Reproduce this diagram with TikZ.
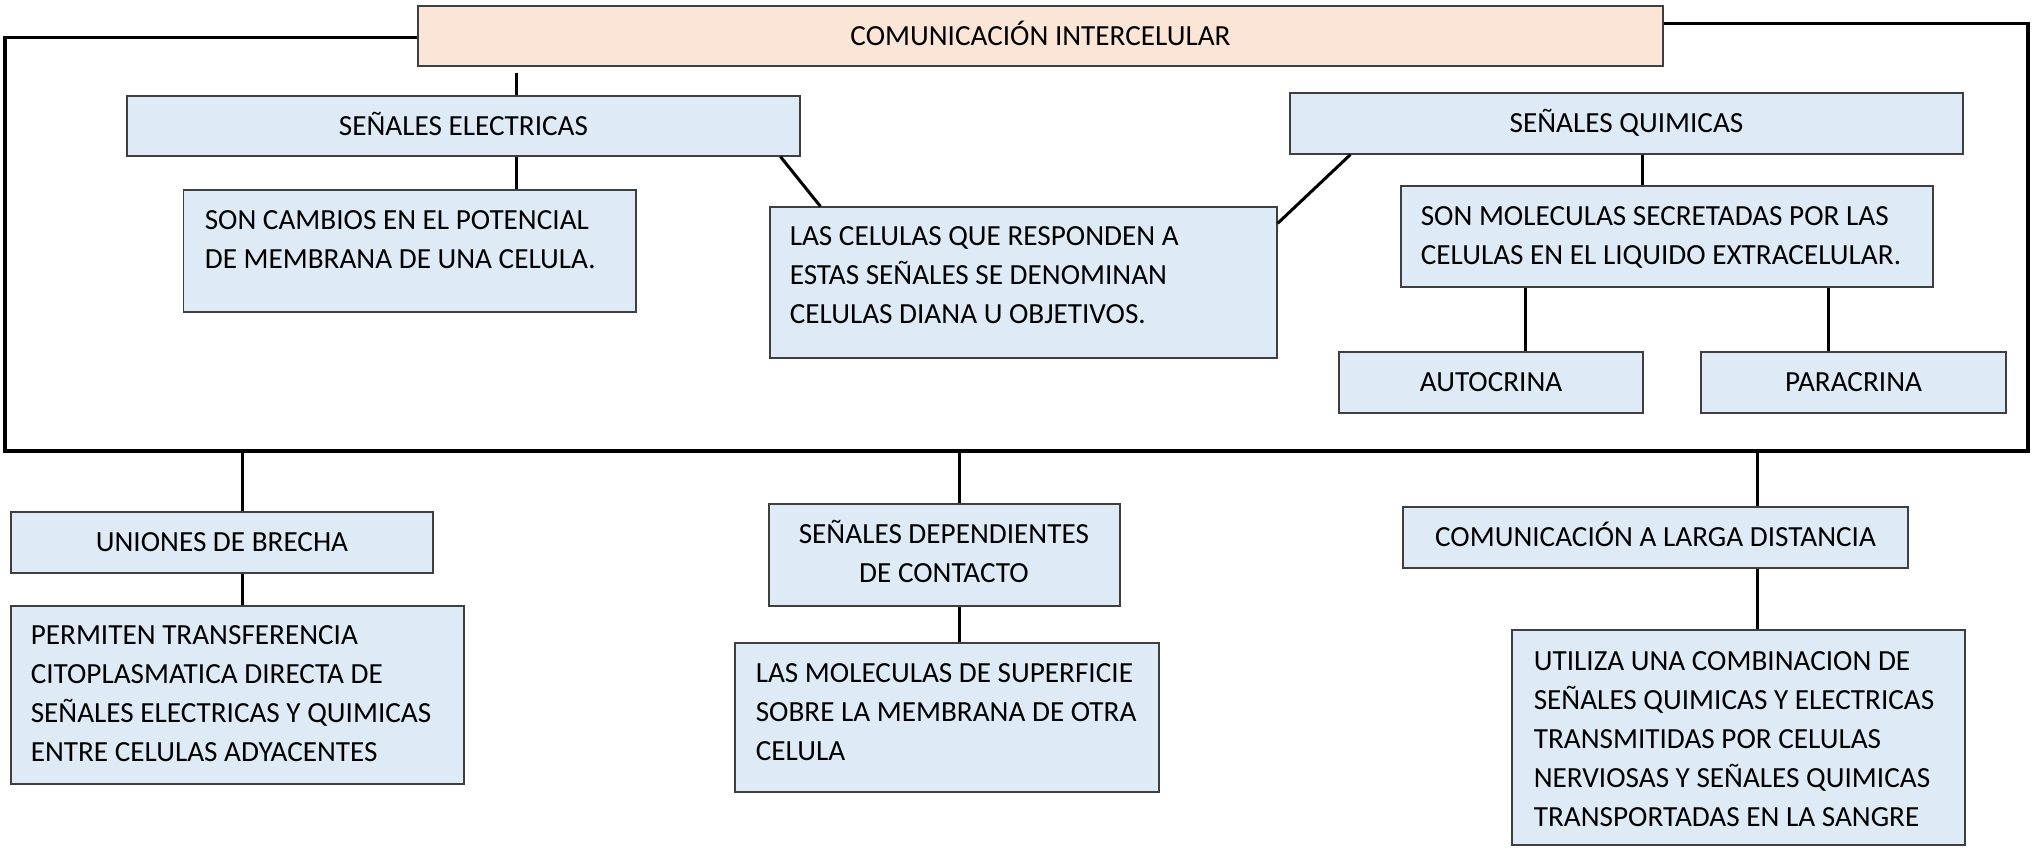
\documentclass[tikz,border=0pt]{standalone}
\usepackage{fontspec}
\setmainfont{Carlito}
\usetikzlibrary{fit,calc}
\definecolor{boxblue}{HTML}{DEEAF6}
\definecolor{boxpeach}{HTML}{FBE5D6}
\definecolor{boxline}{HTML}{3F3F3F}
\begin{document}
\begin{tikzpicture}[x=0.5pt,y=-0.5pt,
  bx/.style={draw=boxline, line width=0.6pt, fill=boxblue, inner sep=0pt},
  lbl/.style={inner sep=0pt, text height=9.4pt, text depth=0pt, anchor=center},
  tx/.style={inner sep=0pt, anchor=base west, align=flush left, text width=#1},
  conn/.style={line width=1.5pt, black},
  frame/.style={line width=1.75pt, black},
  font=\fontsize{14.6pt}{19.5pt}\selectfont]
\fill[white] (0,0) rectangle (2038,849);
\useasboundingbox (0,0) rectangle (2038,849);

% boxes
\node[bx, fill=boxpeach, fit={(418,6)(1663,66)}] (top) {};
\node[bx, fit={(127,96)(800,156)}] (se) {};
\node[bx, fit={(183.5,190)(636,312)}] (sc) {};
\node[bx, fit={(770,207)(1277,358)}] (lc) {};
\node[bx, fit={(1290,93)(1963,154)}] (sq) {};
\node[bx, fit={(1401,186)(1933,287)}] (sm) {};
\node[bx, fit={(1339,352)(1643,413)}] (au) {};
\node[bx, fit={(1701,352)(2006,413)}] (pa) {};
\node[bx, fit={(11,512)(433,573)}] (un) {};
\node[bx, fit={(11,606)(464,784)}] (pe) {};
\node[bx, fit={(769,504)(1120,606)}] (sd) {};
\node[bx, fit={(735,643)(1159,792)}] (lm) {};
\node[bx, fit={(1403,507)(1908,568)}] (cl) {};
\node[bx, fit={(1512,630)(1965,845)}] (ut) {};

% single-line labels
\node[lbl] (t-top) at (top.center) {COMUNICACIÓN INTERCELULAR};
\node[lbl] (t-se) at (se.center) {SEÑALES ELECTRICAS};
\node[lbl] (t-sq) at (sq.center) {SEÑALES QUIMICAS};
\node[lbl] (t-au) at (au.center) {AUTOCRINA};
\node[lbl] (t-pa) at (pa.center) {PARACRINA};
\node[lbl] (t-un) at (un.center) {UNIONES DE BRECHA};
\node[lbl] (t-cl) at (cl.center) {COMUNICACIÓN A LARGA DISTANCIA};

% multi-line texts
\node[tx=215pt] (t-sc) at ($(sc.north west)+(21.5,40)$) {SON CAMBIOS EN EL POTENCIAL\\DE MEMBRANA DE UNA CELULA.};
\node[tx=240pt] (t-lc) at ($(lc.north west)+(20,39)$) {LAS CELULAS QUE RESPONDEN A\\ESTAS SEÑALES SE DENOMINAN\\CELULAS DIANA U OBJETIVOS.};
\node[tx=255pt] (t-sm) at ($(sm.north west)+(20,40)$) {SON MOLECULAS SECRETADAS POR LAS\\CELULAS EN EL LIQUIDO EXTRACELULAR.};
\node[tx=215pt] (t-pe) at ($(pe.north west)+(20,39)$) {PERMITEN TRANSFERENCIA\\CITOPLASMATICA DIRECTA DE\\SEÑALES ELECTRICAS Y QUIMICAS\\ENTRE CELULAS ADYACENTES};
\node[tx=200pt] (t-lm) at ($(lm.north west)+(21,40)$) {LAS MOLECULAS DE SUPERFICIE\\SOBRE LA MEMBRANA DE OTRA\\CELULA};
\node[tx=215pt] (t-ut) at ($(ut.north west)+(22,41)$) {UTILIZA UNA COMBINACION DE\\SEÑALES QUIMICAS Y ELECTRICAS\\TRANSMITIDAS POR CELULAS\\NERVIOSAS Y SEÑALES QUIMICAS\\TRANSPORTADAS EN LA SANGRE};
\node[inner sep=0pt, anchor=base, align=flush center, text width=170pt] (t-sd) at ($(sd.north west)+(175.5,40)$) {SEÑALES DEPENDIENTES\\DE CONTACTO};

% frame
\coordinate (fl) at (5,451);
\coordinate (fr) at (2028,451);
\draw[frame] ($(top.west)+(0,1.5)$) -| (fl) -- (fr) |- ($(top.north east)+(0,18)$);

% connectors upper part
\draw[conn] ($(top.south west)+(99,6)$) -- ($(se.north west)+(390,0)$);
\draw[conn] ($(se.south west)+(390,0)$) -- ($(sc.north west)+(333.5,0)$);
\draw[conn] ($(se.south west)+(654,0)$) -- ($(lc.north west)+(51,0)$);
\draw[conn] ($(lc.north east)+(0,17)$) -- ($(sq.south west)+(61,0)$);
\draw[conn] ($(sq.south west)+(353,0)$) -- ($(sm.north west)+(242,0)$);
\draw[conn] ($(sm.south west)+(125,0)$) -- ($(au.north west)+(187,0)$);
\draw[conn] ($(sm.south west)+(428,0)$) -- ($(pa.north west)+(128,0)$);

% connectors lower part
\draw[conn] ($(un.north west)+(232,0)$) coordinate (u1) -- (u1 |- fl);
\draw[conn] ($(un.south west)+(232,0)$) -- ($(pe.north west)+(232,0)$);
\draw[conn] ($(sd.north west)+(191,0)$) coordinate (d1) -- (d1 |- fl);
\draw[conn] ($(sd.south west)+(191,0)$) -- ($(lm.north west)+(225,0)$);
\draw[conn] ($(cl.north west)+(355,0)$) coordinate (c1) -- (c1 |- fl);
\draw[conn] ($(cl.south west)+(355,0)$) -- ($(ut.north west)+(246,0)$);
\end{tikzpicture}
\end{document}
